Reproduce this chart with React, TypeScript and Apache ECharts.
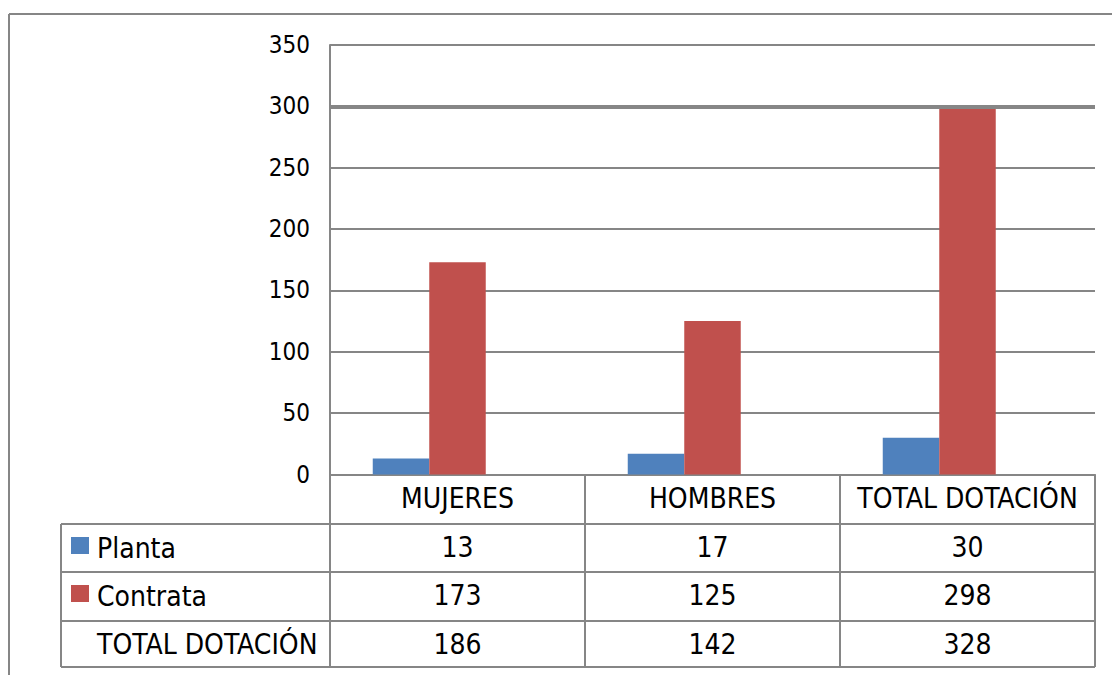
import React, { useEffect, useRef } from "react";
import * as echarts from "echarts";

const categories = ["MUJERES", "HOMBRES", "TOTAL DOTACIÓN"];
const planta = [13, 17, 30];
const contrata = [173, 125, 298];
const totalDotacion = [186, 142, 328];
const rowLabels = ["Planta", "Contrata", "TOTAL DOTACIÓN"];
const yTicks = { min: 0, max: 350, interval: 50 };

const FONT = "'DejaVu Sans Condensed', 'Liberation Sans Narrow', 'DejaVu Sans', sans-serif";
const GRID = "#868686";
const BLUE = "#4F81BD";
const RED = "#C0504D";

export default function App() {
  const ref = useRef<HTMLDivElement>(null);
  useEffect(() => {
    if (!ref.current) return;
    const chart = echarts.init(ref.current, undefined, { renderer: "svg" });
    const gridLeft = 330;
    const gridRight = 1095;
    const tableLeft = 61;
    const rowLines = [524, 572, 621, 667];
    const rowCenters = [548, 596, 644];

    const graphic: any[] = [
      { type: "line", shape: { x1: 9, y1: 14, x2: 1112, y2: 14 }, style: { stroke: GRID, lineWidth: 2 } },
      { type: "line", shape: { x1: 9, y1: 14, x2: 9, y2: 675 }, style: { stroke: GRID, lineWidth: 2 } },
      { type: "line", shape: { x1: tableLeft, y1: rowLines[0], x2: tableLeft, y2: rowLines[3] }, style: { stroke: GRID, lineWidth: 2 } },
      { type: "line", shape: { x1: gridLeft, y1: 474.5, x2: gridLeft, y2: rowLines[3] }, style: { stroke: GRID, lineWidth: 2 } },
    ];
    rowLines.forEach((y) => {
      graphic.push({ type: "line", shape: { x1: tableLeft, y1: y, x2: gridRight, y2: y }, style: { stroke: GRID, lineWidth: 2 } });
    });
    const keyColors = [BLUE, RED, null];
    rowLabels.forEach((lab, i) => {
      if (keyColors[i]) {
        graphic.push({ type: "rect", shape: { x: 71, y: rowCenters[i] - 11, width: 18, height: 17 }, style: { fill: keyColors[i] } });
      }
      graphic.push({
        type: "text",
        x: 97,
        y: rowCenters[i],
        style: { text: lab, font: `28px ${FONT}`, fill: "#000", textVerticalAlign: "middle", textAlign: "left" },
      });
    });

    chart.setOption({
      animation: false,
      backgroundColor: "#fff",
      grid: { left: gridLeft, top: 45, width: gridRight - gridLeft, height: 429.5, containLabel: false },
      xAxis: {
        type: "category",
        data: categories,
        axisLine: { show: true, lineStyle: { color: GRID, width: 2 } },
        axisTick: { show: true, interval: 0, length: 192.5, lineStyle: { color: GRID, width: 2 } },
        axisLabel: {
          interval: 0,
          margin: 0,
          formatter: (val: string, idx: number) =>
            `{c|${val}}\n{v|${planta[idx]}}\n{v|${contrata[idx]}}\n{v|${totalDotacion[idx]}}`,
          rich: {
            c: { fontFamily: FONT, fontSize: 28, lineHeight: 48.5, color: "#000" },
            v: { fontFamily: FONT, fontSize: 28, lineHeight: 48.5, color: "#000" },
          },
        },
      },
      yAxis: {
        type: "value",
        min: yTicks.min,
        max: yTicks.max,
        interval: yTicks.interval,
        axisLine: { show: true, lineStyle: { color: GRID, width: 2 } },
        axisTick: { show: false },
        axisLabel: { margin: 20, fontFamily: FONT, fontSize: 24, color: "#000" },
        splitLine: { show: true, lineStyle: { color: GRID, width: 2 } },
      },
      series: [
        {
          name: "Planta",
          type: "bar",
          data: planta,
          barWidth: 56.5,
          barGap: "0%",
          itemStyle: { color: BLUE },
          markLine: {
            silent: true,
            symbol: "none",
            label: { show: false },
            lineStyle: { color: GRID, width: 4, type: "solid" },
            data: [{ yAxis: 300 }],
          },
        },
        { name: "Contrata", type: "bar", data: contrata, barWidth: 56.5, barGap: "0%", itemStyle: { color: RED } },
        {
          name: "TOTAL DOTACIÓN",
          type: "bar",
          data: totalDotacion,
          barWidth: 56.5,
          barGap: "0%",
          itemStyle: { color: "rgba(0,0,0,0)" },
          emphasis: { disabled: true },
        },
      ],
      graphic,
    });
    return () => chart.dispose();
  }, []);
  return (
    <div
      ref={ref}
      style={{ position: "fixed", left: 0, top: 0, width: 1112, height: 675, background: "#fff" }}
    />
  );
}
